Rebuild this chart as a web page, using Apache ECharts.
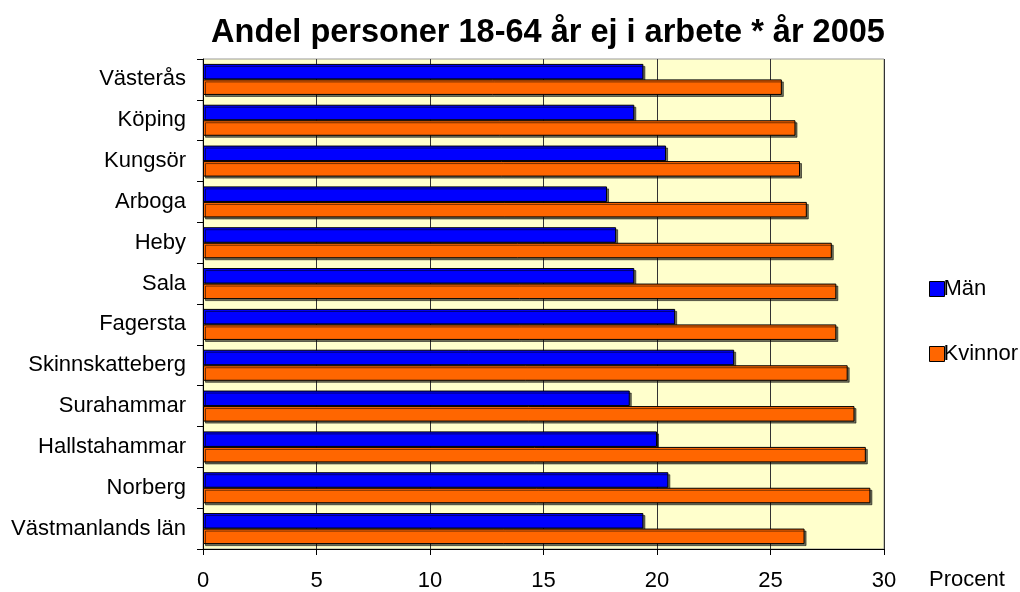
<!DOCTYPE html>
<html>
<head>
<meta charset="utf-8">
<script src="https://cdn.jsdelivr.net/npm/echarts@6/dist/echarts.min.js"></script>
<style>
	body{ margin:0; background:#fff; }
	#chart{ width:1020px; height:592px; }
</style>
</head>
<body>
<div id="chart"></div>
<script>
	// kommuner, uppifrån och ned
	var kommuner = ['Västerås', 'Köping', 'Kungsör', 'Arboga', 'Heby', 'Sala', 'Fagersta',
		'Skinnskatteberg', 'Surahammar', 'Hallstahammar', 'Norberg', 'Västmanlands län'];
	var man = [19.4, 19.0, 20.4, 17.8, 18.2, 19.0, 20.8, 23.4, 18.8, 20.0, 20.5, 19.4];
	var kvinnor = [25.5, 26.1, 26.3, 26.6, 27.7, 27.9, 27.9, 28.4, 28.7, 29.2, 29.4, 26.5];
	var xTicks = [0, 5, 10, 15, 20, 25, 30];

	var font = 'Arial, "Liberation Sans", sans-serif';
	var myChart = echarts.init(document.getElementById('chart'));
	var barShadow = {
		borderColor: '#000',
		borderWidth: 1,
		shadowColor: 'rgba(0,0,0,0.55)',
		shadowOffsetX: 2,
		shadowOffsetY: 2,
		shadowBlur: 0
	};
	var legendStyle = { borderColor: '#000', borderWidth: 1, shadowBlur: 0, shadowOffsetX: 0, shadowOffsetY: 0 };
	myChart.setOption({
		animation: false,
		backgroundColor: '#fff',
		textStyle: { fontFamily: font },
		title: {
			text: 'Andel personer 18-64 år ej i arbete * år 2005',
			left: 543,
			textAlign: 'center',
			top: 12,
			textStyle: { fontSize: 32.5, fontWeight: 'bold', color: '#000', fontFamily: font }
		},
		legend: {
			orient: 'vertical',
			left: 924,
			top: 273,
			itemWidth: 15,
			itemHeight: 15,
			itemGap: 43,
			icon: 'rect',
			textStyle: { fontSize: 22, color: '#000', padding: [0, 0, 0, -6] },
			data: [
				{ name: 'Män', itemStyle: legendStyle },
				{ name: 'Kvinnor', itemStyle: legendStyle }
			]
		},
		grid: {
			left: 203,
			right: 136,
			top: 59,
			bottom: 41,
			show: true,
			backgroundColor: '#FFFFCC',
			borderColor: '#999',
			borderWidth: 1
		},
		xAxis: {
			type: 'value',
			min: xTicks[0],
			max: xTicks[xTicks.length - 1],
			interval: 5,
			axisLine: { show: true, lineStyle: { color: '#000' } },
			axisTick: { show: true, length: 6, lineStyle: { color: '#000' } },
			axisLabel: { fontSize: 22, color: '#000', margin: 21 },
			splitLine: { show: true, lineStyle: { color: '#333', width: 1 } }
		},
		yAxis: {
			type: 'category',
			inverse: true,
			data: kommuner,
			axisLine: { show: true, lineStyle: { color: '#000' } },
			axisTick: { show: true, length: 6, lineStyle: { color: '#000' } },
			axisLabel: { fontSize: 22, color: '#000', margin: 17 }
		},
		graphic: [{
			type: 'text',
			left: 929,
			top: 569,
			style: { text: 'Procent', fontSize: 22, fill: '#000', fontFamily: font }
		}],
		series: [
			{
				name: 'Män',
				type: 'bar',
				data: man,
				barGap: '0%',
				barCategoryGap: '24%',
				itemStyle: Object.assign({ color: '#0000FF' }, barShadow)
			},
			{
				name: 'Kvinnor',
				type: 'bar',
				data: kvinnor,
				itemStyle: Object.assign({ color: '#FF6600' }, barShadow)
			}
		]
	});
</script>
</body>
</html>
